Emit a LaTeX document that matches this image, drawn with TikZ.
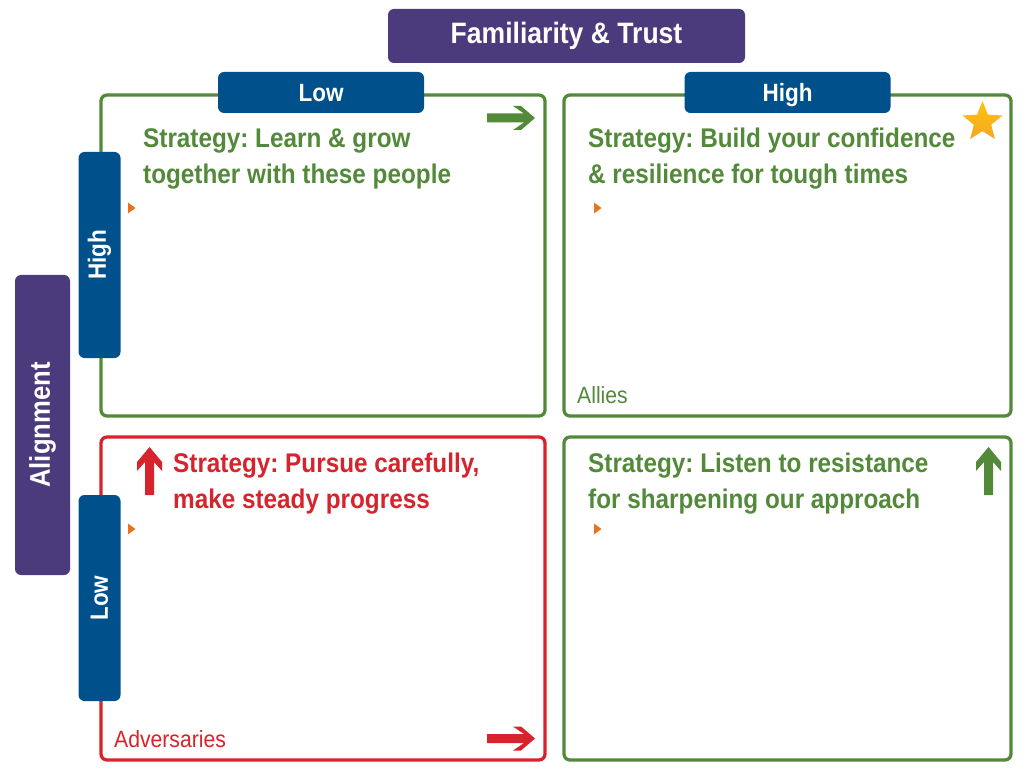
\documentclass[tikz,border=0pt]{standalone}
\usepackage{fontspec}
\setmainfont{Liberation Sans}
\newfontfamily\narrowfont[FakeStretch=0.9]{Liberation Sans}
\usetikzlibrary{shapes.geometric}
\definecolor{titlepurple}{HTML}{4B3A7C}
\definecolor{labelblue}{HTML}{00508C}
\definecolor{quadgreen}{HTML}{538A3A}
\definecolor{quadred}{HTML}{D7232B}
\definecolor{bulletorange}{HTML}{E8731F}
\definecolor{stargold}{HTML}{FFC20E}
\definecolor{starorange}{HTML}{F5A623}
\frenchspacing
\tikzset{
  quadframe/.style={line width=3.3pt, rounded corners=6pt},
  headbox/.style={fill=#1, rounded corners=6pt, text=white, font=\narrowfont\bfseries, inner sep=0pt},
  strategy/.style={anchor=north west, align=left, inner sep=0pt, font=\narrowfont\bfseries\fontsize{27}{36}\selectfont},
  corner/.style={inner sep=0pt, font=\narrowfont\fontsize{23.5}{26}\selectfont},
  bullet/.pic={\fill[bulletorange] (0,-5.5)--(7.5,0)--(0,5.5)--cycle;},
  rightblock/.pic={\fill (0,-4.5)--(37,-4.5)--(26,-12)--(34,-12)--(48,0)--(34,12)--(26,12)--(37,4.5)--(0,4.5)--cycle;},
  upblock/.pic={\fill (-4.5,0)--(-4.5,-33)--(-12.5,-24)--(-12.5,-33)--(0,-48)--(12.5,-33)--(12.5,-24)--(4.5,-33)--(4.5,0)--cycle;}
}
\begin{document}
\begin{tikzpicture}[x=1pt, y=-1pt, line join=round, line cap=round]
  \useasboundingbox[fill=white] (0,0) rectangle (1024,775);
  % quadrant frames
  \draw[quadframe, quadgreen] (101,95) rectangle (545,416);
  \draw[quadframe, quadgreen] (564,95) rectangle (1011,416);
  \draw[quadframe, quadred] (101,437) rectangle (545,760);
  \draw[quadframe, quadgreen] (564,437) rectangle (1011,760);
  % axis headers
  \node[headbox=titlepurple, minimum width=357pt, minimum height=54pt, font=\narrowfont\bfseries\fontsize{29.5}{34}\selectfont] (famtrust) at (566.5,36) {Familiarity \& Trust};
  \node[headbox=labelblue, minimum width=206pt, minimum height=41pt, text height=18pt, text depth=0pt, font=\narrowfont\bfseries\fontsize{25}{28}\selectfont] (famlow) at (321,92.5) {Low};
  \node[headbox=labelblue, minimum width=206pt, minimum height=41pt, text height=18pt, text depth=0pt, font=\narrowfont\bfseries\fontsize{25}{28}\selectfont] (famhigh) at (787.5,92.5) {High};
  \node[headbox=titlepurple, rotate=90, minimum width=300pt, minimum height=55pt, font=\narrowfont\bfseries\fontsize{28.5}{34}\selectfont] (align) at (42.5,425) {Alignment};
  \node[headbox=labelblue, rotate=90, minimum width=206pt, minimum height=42pt, font=\narrowfont\bfseries\fontsize{25}{28}\selectfont] (alhigh) at (99.5,255) {High};
  \node[headbox=labelblue, rotate=90, minimum width=206pt, minimum height=42pt, font=\narrowfont\bfseries\fontsize{25}{28}\selectfont] (allow) at (99.5,598) {Low};
  % strategies
  \node[strategy, text=quadgreen] (learn) at (143,128) {Strategy: Learn \& grow\\together with these people};
  \node[strategy, text=quadgreen] (build) at (588,128) {Strategy: Build your confidence\\\& resilience for tough times};
  \node[strategy, text=quadred] (pursue) at (173,453) {Strategy: Pursue carefully,\\make steady progress};
  \node[strategy, text=quadgreen] (listen) at (588,453) {Strategy: Listen to resistance\\for sharpening our approach};
  % bullets
  \foreach \bx/\by in {128/208, 594/208, 128/529, 594/529}
    \pic at (\bx,\by) {bullet};
  % corner names
  \node[corner, anchor=west, text=quadgreen] (allies) at (577,395) {Allies};
  \node[corner, anchor=west, text=quadred] (advers) at (114,739) {Adversaries};
  % direction arrows
  \pic[quadgreen] at (487,118) {rightblock};
  \pic[quadred] at (487,738.5) {rightblock};
  \pic[quadred] at (149.5,495) {upblock};
  \pic[quadgreen] at (988.5,495) {upblock};
  \node[star, star points=5, star point ratio=2.3, minimum size=42pt, inner sep=0pt, top color=stargold, bottom color=starorange, draw=none] (goal) at (982.5,122) {};
\end{tikzpicture}
\end{document}
